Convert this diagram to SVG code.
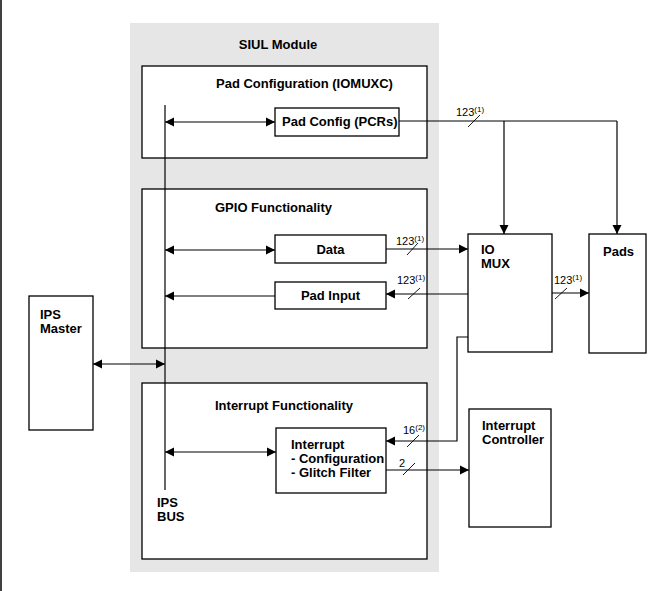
<svg xmlns="http://www.w3.org/2000/svg" width="657" height="591" viewBox="0 0 657 591">
<style>
.box{fill:#fff;stroke:#000;stroke-width:1.3}
.t{font-family:"Liberation Sans",Arial,sans-serif;font-weight:bold;font-size:13px;fill:#000}
.n{font-family:"Liberation Sans",Arial,sans-serif;font-size:11px;fill:#000}
.s{font-size:8px}
.c{fill:none;stroke:#000;stroke-width:1.2}
.sl{stroke:#000;stroke-width:0.9}
</style>
<defs>
<marker id="ah" viewBox="0 0 10 10" refX="10" refY="5" markerWidth="9" markerHeight="10" orient="auto-start-reverse" markerUnits="userSpaceOnUse">
<path d="M0,0 L10,5 L0,10 z" fill="#000"/>
</marker>
</defs>
<rect width="657" height="591" fill="#fff"/>
<line x1="1" y1="0" x2="1" y2="591" stroke="#000" stroke-width="1.5"/>
<g id="siul">
<rect x="130" y="23" width="309" height="549" fill="#e6e6e6"/>
<text class="t" x="278" y="49" text-anchor="middle">SIUL Module</text>
</g>
<g id="padconfig">
<rect class="box" x="142" y="66" width="285" height="92"/>
<text class="t" x="216" y="88">Pad Configuration (IOMUXC)</text>
</g>
<g id="pcrs">
<rect class="box" x="275" y="108" width="124" height="28"/>
<text class="t" x="282" y="126">Pad Config (PCRs)</text>
</g>
<g id="gpio">
<rect class="box" x="142" y="189" width="285" height="159"/>
<text class="t" x="215" y="212">GPIO Functionality</text>
</g>
<g id="data">
<rect class="box" x="275" y="235" width="111" height="28"/>
<text class="t" x="330.5" y="254" text-anchor="middle">Data</text>
</g>
<g id="padinput">
<rect class="box" x="275" y="282" width="111" height="27"/>
<text class="t" x="330.5" y="300" text-anchor="middle">Pad Input</text>
</g>
<g id="interruptfunc">
<rect class="box" x="142" y="383" width="285" height="176"/>
<text class="t" x="215" y="410">Interrupt Functionality</text>
</g>
<g id="interrupt">
<rect class="box" x="276" y="428" width="110" height="65"/>
<text class="t" x="291" y="449">Interrupt</text>
<text class="t" x="291" y="463">- Configuration</text>
<text class="t" x="291" y="477">- Glitch Filter</text>
</g>
<g id="ipsbus">
<text class="t" x="157" y="507">IPS</text>
<text class="t" x="157" y="521">BUS</text>
</g>
<g id="ipsmaster">
<rect class="box" x="29" y="296" width="64" height="134"/>
<text class="t" x="40" y="319">IPS</text>
<text class="t" x="40" y="333">Master</text>
</g>
<g id="iomux">
<rect class="box" x="468" y="234" width="84" height="118"/>
<text class="t" x="481" y="254">IO</text>
<text class="t" x="481" y="268">MUX</text>
</g>
<g id="pads">
<rect class="box" x="589" y="234" width="57" height="119"/>
<text class="t" x="603" y="256">Pads</text>
</g>
<g id="intctrl">
<rect class="box" x="469" y="409" width="82" height="118"/>
<text class="t" x="482" y="430">Interrupt</text>
<text class="t" x="482" y="444">Controller</text>
</g>
<g id="connectors">
<line class="c" x1="165" y1="105" x2="165" y2="490"/>
<line class="c" x1="165" y1="122" x2="275" y2="122" marker-start="url(#ah)" marker-end="url(#ah)"/>
<line class="c" x1="399" y1="121" x2="617" y2="121"/>
<line class="c" x1="504" y1="121" x2="504" y2="234" marker-end="url(#ah)"/>
<line class="c" x1="617" y1="121" x2="617" y2="234" marker-end="url(#ah)"/>
<line class="c" x1="165" y1="250" x2="275" y2="250" marker-start="url(#ah)" marker-end="url(#ah)"/>
<line class="c" x1="386" y1="249" x2="468" y2="249" marker-end="url(#ah)"/>
<line class="c" x1="275" y1="296" x2="165" y2="296" marker-end="url(#ah)"/>
<line class="c" x1="468" y1="294" x2="386" y2="294" marker-end="url(#ah)"/>
<line class="c" x1="552" y1="293" x2="589" y2="293" marker-end="url(#ah)"/>
<line class="c" x1="93" y1="364" x2="165" y2="364" marker-start="url(#ah)" marker-end="url(#ah)"/>
<line class="c" x1="165" y1="452" x2="276" y2="452" marker-start="url(#ah)" marker-end="url(#ah)"/>
<polyline class="c" points="468,337 457,337 457,441 386,441" marker-end="url(#ah)"/>
<line class="c" x1="386" y1="470" x2="469" y2="470" marker-end="url(#ah)"/>
<line class="sl" x1="468" y1="127" x2="480" y2="115"/>
<line class="sl" x1="407" y1="255" x2="418" y2="243"/>
<line class="sl" x1="408" y1="299" x2="420" y2="288"/>
<line class="sl" x1="555" y1="299" x2="567" y2="288"/>
<line class="sl" x1="407" y1="447" x2="419" y2="435"/>
<line class="sl" x1="403" y1="475" x2="415" y2="463"/>
<text class="n" x="456" y="116">123<tspan class="s" dy="-4">(1)</tspan></text>
<text class="n" x="396" y="245">123<tspan class="s" dy="-4">(1)</tspan></text>
<text class="n" x="397" y="284">123<tspan class="s" dy="-4">(1)</tspan></text>
<text class="n" x="554" y="284">123<tspan class="s" dy="-4">(1)</tspan></text>
<text class="n" x="403" y="434">16<tspan class="s" dy="-4">(2)</tspan></text>
<text class="n" x="399" y="467">2</text>
</g>
</svg>
